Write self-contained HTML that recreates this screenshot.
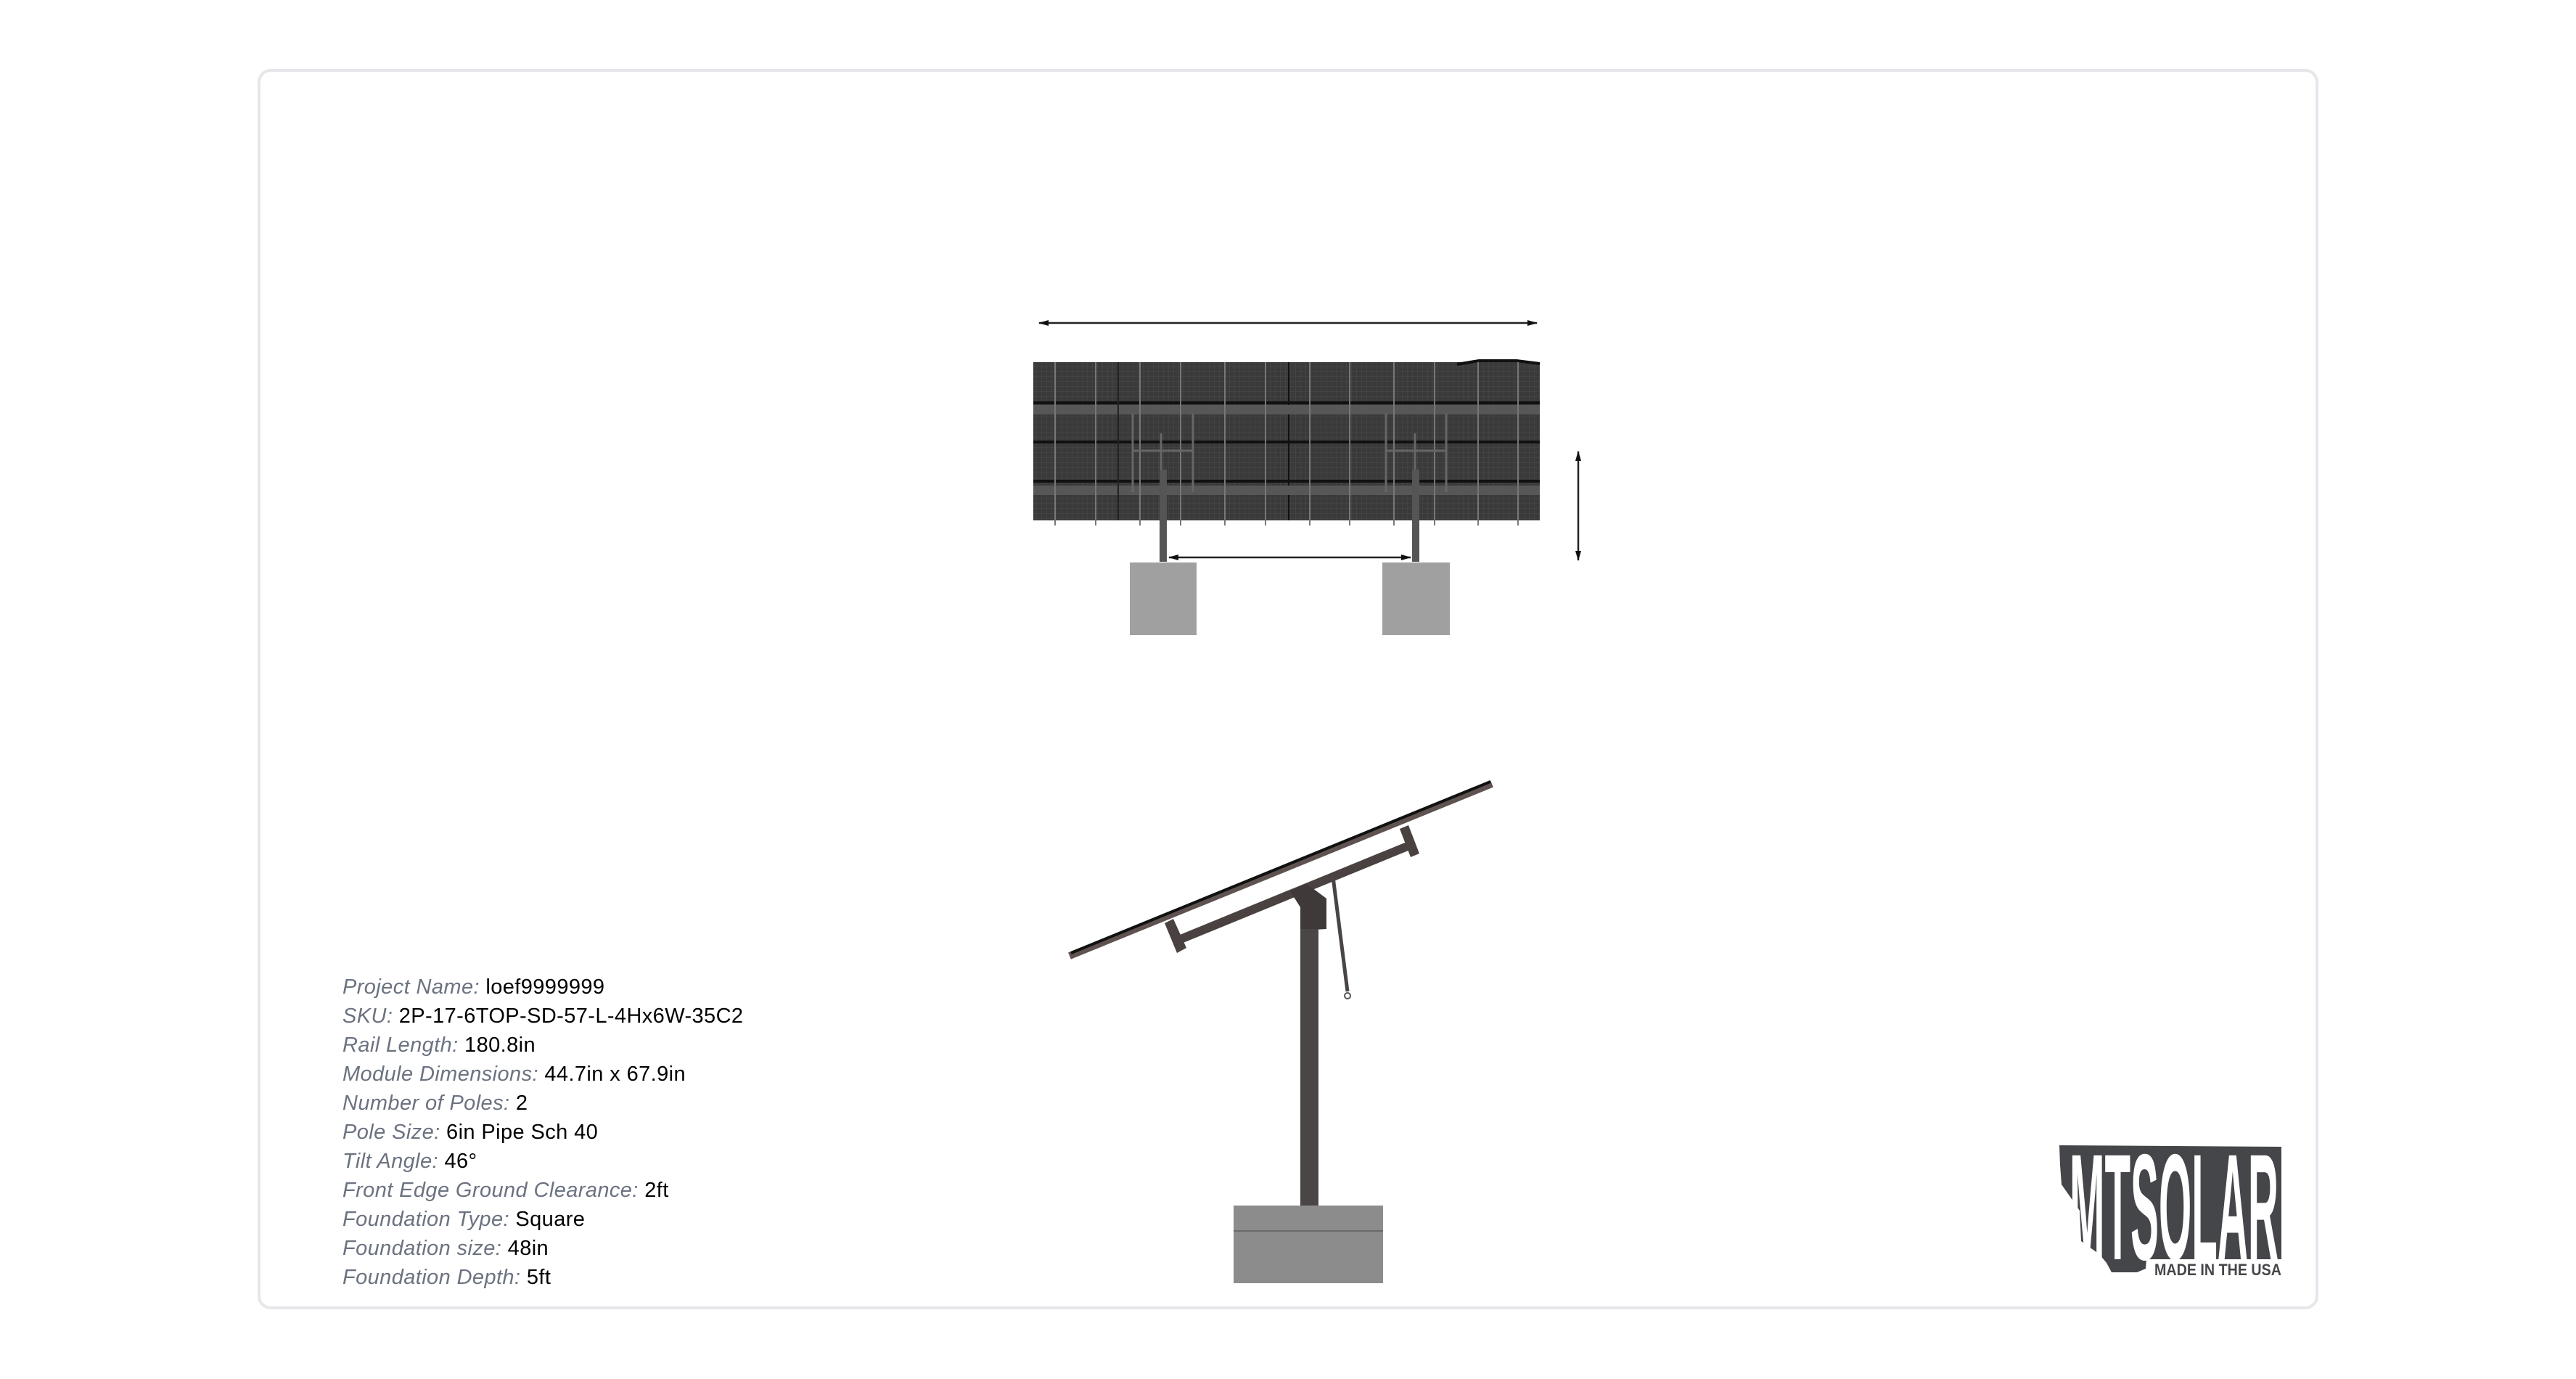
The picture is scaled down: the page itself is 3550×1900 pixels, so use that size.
<!DOCTYPE html>
<html><head><meta charset="utf-8"><style>
html,body{margin:0;padding:0;background:#fff;}
body{width:3550px;height:1900px;position:relative;overflow:hidden;font-family:"Liberation Sans",sans-serif;}
.card{position:absolute;left:355px;top:95px;width:2832px;height:1701px;border:4px solid #e5e7eb;border-radius:18px;}
.info{position:absolute;left:472px;top:1340px;font-size:29px;line-height:40px;color:#000;letter-spacing:0.4px;}
.info i{color:#6b7280;}
svg{position:absolute;left:0;top:0;}
</style></head><body>
<div class="card"></div>
<svg width="3550" height="1900" viewBox="0 0 3550 1900">
<defs>
<marker id="ah" markerWidth="14" markerHeight="8" refX="13" refY="4" orient="auto-start-reverse" markerUnits="userSpaceOnUse"><path d="M0,0 L14,4 L0,8 Z" fill="#111"/></marker>
<pattern id="grid" width="7" height="7" patternUnits="userSpaceOnUse"><rect width="7" height="7" fill="#3a3a3a"/><path d="M0,0H7M0,0V7" stroke="#4a4a4a" stroke-width="1"/></pattern>
</defs>
<!-- front view -->
<line x1="1432" y1="445" x2="2118" y2="445" stroke="#222" stroke-width="2.5" marker-start="url(#ah)" marker-end="url(#ah)"/>
<rect x="1424" y="499" width="698" height="218" fill="url(#grid)"/>
<path d="M2008,502 L2038,497 L2090,497 L2122,501" stroke="#111" stroke-width="4" fill="none"/>
<g fill="#111"><rect x="1424" y="553" width="698" height="4"/><rect x="1424" y="607" width="698" height="4"/><rect x="1424" y="661" width="698" height="4"/><rect x="1775" y="499" width="2" height="218"/></g>
<g fill="#575757"><rect x="1424" y="558" width="698" height="13"/><rect x="1424" y="669" width="698" height="13"/></g>
<g stroke="#777" stroke-width="2">
<line x1="1454" y1="499" x2="1454" y2="724"/><line x1="1510" y1="499" x2="1510" y2="724"/><line x1="1571" y1="499" x2="1571" y2="724"/><line x1="1627" y1="499" x2="1627" y2="724"/><line x1="1688" y1="499" x2="1688" y2="724"/><line x1="1744" y1="499" x2="1744" y2="724"/><line x1="1805" y1="499" x2="1805" y2="724"/><line x1="1860" y1="499" x2="1860" y2="724"/><line x1="1921" y1="499" x2="1921" y2="724"/><line x1="1977" y1="499" x2="1977" y2="724"/><line x1="2037" y1="499" x2="2037" y2="724"/><line x1="2092" y1="499" x2="2092" y2="724"/>
</g>
<g stroke="#222" stroke-width="2"><line x1="1541" y1="499" x2="1541" y2="717"/></g>
<g stroke="#666" stroke-width="3" fill="none">
<line x1="1561" y1="570" x2="1561" y2="678"/><line x1="1644" y1="570" x2="1644" y2="678"/><line x1="1562" y1="621" x2="1644" y2="621"/><line x1="1600" y1="597" x2="1600" y2="650"/>
<line x1="1910" y1="570" x2="1910" y2="678"/><line x1="1993" y1="570" x2="1993" y2="678"/><line x1="1911" y1="621" x2="1993" y2="621"/><line x1="1950" y1="597" x2="1950" y2="650"/>
</g>
<rect x="1598" y="647" width="10" height="127" fill="#555"/>
<rect x="1946" y="647" width="10" height="127" fill="#555"/>
<rect x="1557" y="775" width="92" height="100" fill="#a0a0a0"/>
<rect x="1905" y="775" width="93" height="100" fill="#a0a0a0"/>
<line x1="1611" y1="768" x2="1944" y2="768" stroke="#222" stroke-width="2.5" marker-start="url(#ah)" marker-end="url(#ah)"/>
<line x1="2175" y1="622" x2="2175" y2="772" stroke="#222" stroke-width="2.5" marker-start="url(#ah)" marker-end="url(#ah)"/>
<!-- side view -->
<line x1="1474" y1="1317" x2="2056" y2="1080" stroke="#5e5350" stroke-width="10"/>
<line x1="1476" y1="1313" x2="2054" y2="1077" stroke="#111" stroke-width="4"/>
<line x1="1627" y1="1294" x2="1947" y2="1163" stroke="#4a4240" stroke-width="12"/>
<polygon points="1605,1272 1617,1266 1635,1306 1622,1313" fill="#4a4240"/>
<polygon points="1929,1142 1941,1137 1956,1176 1944,1181" fill="#4a4240"/>
<polygon points="1778,1228 1800,1217 1828,1238 1828,1280 1792,1282 1792,1250" fill="#3f3a39"/>
<rect x="1792" y="1280" width="25" height="382" fill="#4b4646"/>
<line x1="1837" y1="1208" x2="1857" y2="1366" stroke="#4a4545" stroke-width="5"/>
<circle cx="1857" cy="1372" r="4" fill="none" stroke="#555" stroke-width="2"/>
<rect x="1700" y="1661" width="206" height="107" fill="#8c8c8c"/>
<line x1="1700" y1="1696" x2="1906" y2="1696" stroke="#6a6a6a" stroke-width="2"/>
<!-- logo -->
<polygon points="2838,1578 3144,1580 3144,1735 2958,1735 2957,1748 2945,1753 2910,1753 2903,1740 2893,1728 2868,1710 2866,1668 2855,1652 2841,1632 2839,1605" fill="#45464a"/>
<text x="2852" y="1735" font-family="Liberation Sans" font-weight="bold" font-size="208" fill="#fff" textLength="288" lengthAdjust="spacingAndGlyphs">MTSOLAR</text>
<text x="2969" y="1757" font-family="Liberation Sans" font-weight="bold" font-size="22" fill="#45464a" textLength="175" lengthAdjust="spacingAndGlyphs">MADE IN THE USA</text>
</svg>
<div class="info">
<div><i>Project Name:</i> loef9999999</div>
<div><i>SKU:</i> 2P-17-6TOP-SD-57-L-4Hx6W-35C2</div>
<div><i>Rail Length:</i> 180.8in</div>
<div><i>Module Dimensions:</i> 44.7in x 67.9in</div>
<div><i>Number of Poles:</i> 2</div>
<div><i>Pole Size:</i> 6in Pipe Sch 40</div>
<div><i>Tilt Angle:</i> 46°</div>
<div><i>Front Edge Ground Clearance:</i> 2ft</div>
<div><i>Foundation Type:</i> Square</div>
<div><i>Foundation size:</i> 48in</div>
<div><i>Foundation Depth:</i> 5ft</div>
</div>
</body></html>
